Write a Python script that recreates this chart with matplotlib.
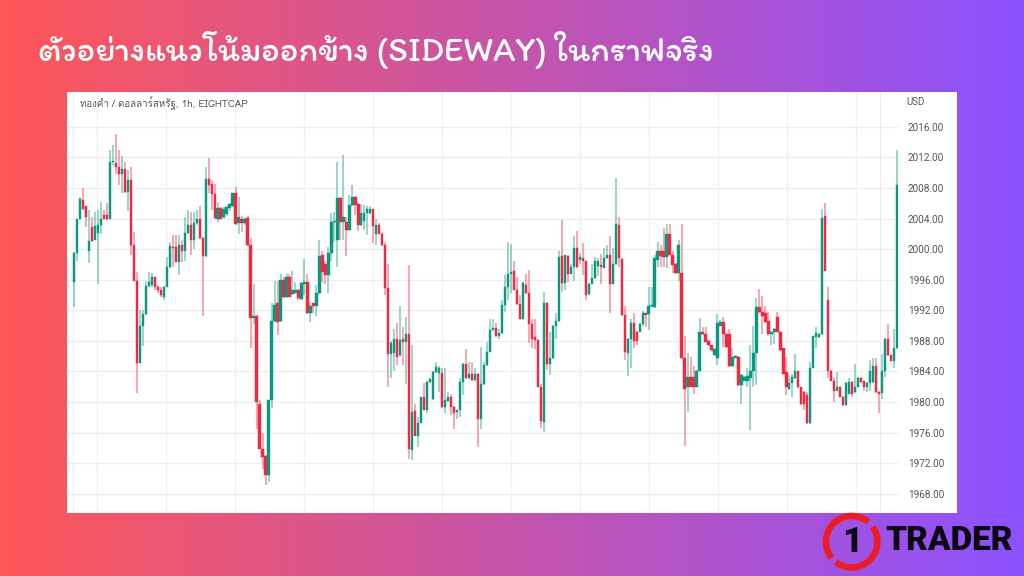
import numpy as np
import matplotlib
matplotlib.use("Agg")
import matplotlib.pyplot as plt
from matplotlib.patches import Wedge
from matplotlib.colors import LinearSegmentedColormap

title = "ตัวอย่างแนวโน้มออกข้าง (SIDEWAY) ในกราฟจริง"
symbol = "ทองคำ / ดอลลาร์สหรัฐ, 1h, EIGHTCAP"
currency = "USD"
price_ticks = [2016, 2012, 2008, 2004, 2000, 1996, 1992, 1988, 1984, 1980, 1976, 1972, 1968]

opens = [1995.7,1999.5,2004.0,2006.4,2005.6,1999.8,2002.9,2001.2,2002.1,2003.2,
2004.5,2004.5,2004.0,2011.4,2011.3,2010.7,2009.8,2010.5,2007.5,2009.1,
2000.5,1995.9,1985.1,1989.9,1991.5,1995.2,1995.3,1996.3,1995.0,1994.6,
1993.8,1995.0,1997.7,2000.3,2000.3,1998.3,2000.6,1999.7,2002.1,2003.2,
2001.2,2003.4,2004.0,2001.4,1999.1,2009.2,2008.5,2007.2,2004.0,2005.4,
2004.2,2004.6,2005.4,2005.7,2007.3,2003.4,2004.0,2003.4,2004.1,2000.5,
1991.0,1991.3,1979.8,1973.9,1972.9,1970.4,1980.2,1990.6,1992.9,1990.6,
1996.0,1993.7,1996.3,1994.1,1994.2,1994.6,1993.5,1995.5,1995.7,1991.6,
1992.9,1992.6,1994.2,1999.3,1998.1,1996.6,1999.5,2003.6,2001.2,2006.7,
2003.6,2003.6,2002.5,2005.8,2006.8,2005.9,2003.2,2003.7,2004.7,2004.7,
2005.2,2002.0,2003.2,2002.0,2000.6,1994.9,1986.3,1986.4,1988.3,1986.1,
1988.2,1987.9,1988.9,1973.7,1978.8,1975.6,1977.3,1980.6,1979.0,1982.6,
1980.4,1983.9,1983.8,1983.8,1979.3,1980.1,1980.7,1979.4,1978.7,1978.9,
1982.6,1985.0,1983.1,1983.7,1982.9,1983.7,1977.8,1982.3,1984.8,1986.6,
1989.4,1989.7,1988.6,1989.0,1992.7,1995.1,1996.8,1997.2,1994.7,1992.8,
1990.9,1995.3,1994.2,1990.2,1988.5,1988.1,1982.0,1977.4,1993.0,1985.0,
1985.7,1990.0,1990.6,1999.1,1995.6,1999.1,1996.8,1997.7,2000.1,1998.6,
1998.9,1998.4,1994.1,1995.5,1996.2,1997.8,1997.9,1997.6,1998.8,1999.2,
1995.5,1998.0,2003.2,1998.7,1991.4,1986.4,1988.3,1990.4,1989.2,1989.2,
1990.2,1991.6,1991.5,1992.6,1992.4,1998.6,1999.8,1999.8,1999.0,2002.0,
1999.3,1998.1,1996.9,1996.9,1985.7,1982.0,1983.3,1983.3,1982.0,1984.1,
1989.2,1988.9,1988.0,1987.4,1986.2,1985.8,1990.0,1990.5,1988.9,1988.9,
1984.7,1985.8,1985.9,1982.2,1982.8,1982.8,1983.2,1984.1,1986.4,1992.4,
1991.8,1991.6,1990.6,1988.9,1989.2,1991.1,1989.2,1987.0,1983.9,1981.7,
1982.5,1983.1,1984.0,1981.9,1981.3,1980.9,1977.2,1984.5,1988.5,1988.5,
1988.9,2004.4,1993.4,1984.1,1982.8,1981.5,1982.0,1980.7,1979.6,1981.1,
1982.6,1981.3,1982.0,1983.2,1982.7,1982.0,1982.5,1982.6,1984.7,1981.3,
1981.2,1984.0,1988.2,1986.1,1985.4,1987.0]

closes = [1999.5,2004.0,2006.6,2005.2,2004.2,2001.1,2001.1,2003.0,2003.2,2004.0,
2004.0,2003.9,2011.4,2011.5,2010.7,2009.9,2010.5,2007.5,2009.1,2000.5,
1995.9,1985.1,1989.9,1991.5,1995.2,1995.7,1996.3,1995.0,1994.6,1994.0,
1995.0,1997.7,2000.4,2000.1,1998.3,2000.6,1999.7,2002.1,2003.2,2001.2,
2003.4,2003.9,2001.4,1999.1,2009.2,2008.4,2007.2,2004.1,2005.4,2004.0,
2005.3,2005.5,2005.9,2007.3,2003.3,2004.2,2003.4,2004.0,2000.5,1991.0,
1991.3,1980.0,1973.9,1972.8,1970.4,1980.2,1990.6,1992.7,1990.5,1996.0,
1993.7,1996.3,1993.8,1994.6,1994.6,1993.6,1995.6,1995.7,1991.6,1992.6,
1992.6,1994.2,1999.1,1997.0,1996.6,1999.5,2003.6,2003.7,2006.7,2003.6,
2004.2,2002.5,2005.8,2006.8,2005.8,2003.1,2004.8,2004.8,2005.3,2005.3,
2003.0,2003.1,2002.0,2000.5,1994.9,1986.3,1987.7,1988.3,1985.9,1988.1,
1987.9,1988.9,1973.9,1978.7,1975.6,1977.3,1980.6,1979.0,1982.6,1983.0,
1983.9,1984.6,1984.5,1979.3,1980.2,1980.7,1979.4,1978.6,1978.9,1982.6,
1985.0,1983.1,1983.6,1982.9,1983.7,1977.8,1982.3,1984.8,1986.6,1989.4,
1989.7,1988.6,1989.0,1992.7,1995.1,1996.8,1997.0,1994.7,1992.8,1990.9,
1995.6,1994.2,1990.2,1988.3,1988.1,1982.0,1977.5,1993.0,1985.0,1985.7,
1990.0,1990.6,1999.0,1995.6,1999.2,1996.8,1997.7,2000.1,1997.7,1999.0,
1998.4,1994.0,1995.5,1996.2,1998.4,1998.4,1997.7,1998.8,1999.3,1995.5,
1998.0,2003.3,1998.8,1991.4,1986.6,1988.3,1990.4,1988.0,1988.0,1990.2,
1991.6,1991.4,1992.6,1992.7,1998.8,1999.8,1999.1,1999.0,2002.0,1999.3,
1997.9,1996.9,2000.6,1985.7,1981.7,1983.3,1982.0,1982.0,1984.1,1989.2,
1988.9,1987.9,1987.4,1986.8,1986.9,1990.3,1990.5,1988.9,1987.2,1984.7,
1985.9,1986.0,1982.2,1983.5,1983.3,1983.4,1984.1,1986.4,1992.4,1991.8,
1991.3,1990.5,1988.9,1989.2,1989.6,1989.2,1986.8,1983.7,1981.9,1982.5,
1983.3,1984.0,1981.9,1979.7,1979.7,1977.2,1984.5,1988.6,1989.0,1988.9,
2004.1,1997.2,1984.1,1982.8,1981.5,1982.0,1980.7,1979.6,1982.5,1982.6,
1981.1,1982.0,1983.2,1982.6,1982.0,1982.5,1984.1,1984.7,1981.3,1981.1,
1984.1,1988.3,1986.1,1985.4,1987.0,2008.4]

highs = [1999.6,2004.0,2006.8,2008.0,2005.7,2005.1,2004.2,2004.9,2005.1,2006.2,
2005.1,2006.0,2013.0,2013.6,2015.1,2013.0,2012.2,2011.4,2010.3,2010.7,
2002.2,1997.0,1992.0,1992.0,1995.9,1997.0,1996.9,1996.4,1995.3,1995.0,
1995.2,1999.0,2000.9,2001.8,2001.8,2001.8,2001.2,2004.2,2005.1,2004.9,
2004.9,2005.1,2005.7,2001.6,2010.7,2011.9,2009.0,2008.5,2006.2,2005.5,
2005.5,2005.7,2006.0,2007.4,2008.1,2006.8,2004.4,2004.2,2004.3,2001.4,
1995.5,1991.4,1980.3,1976.0,1973.0,1980.3,1992.9,1995.9,1995.9,1996.7,
1996.3,1996.8,1996.8,1997.2,1995.7,1994.8,1995.7,1998.7,1996.8,1993.1,
1993.0,1995.3,2001.2,1999.8,1998.5,2000.3,2004.7,2004.9,2011.4,2006.8,
2012.3,2004.2,2007.1,2008.4,2007.0,2006.0,2005.9,2005.8,2005.6,2005.6,
2005.3,2003.9,2003.4,2002.3,2001.0,1998.0,1988.0,1989.6,1990.3,1992.5,
1989.8,1991.1,1997.9,1987.4,1979.7,1978.0,1980.7,1982.5,1982.8,1983.2,
1984.0,1985.2,1984.7,1984.4,1984.4,1981.3,1981.1,1979.5,1979.0,1983.1,
1985.1,1986.9,1985.2,1985.2,1984.4,1983.8,1987.2,1985.2,1987.9,1990.8,
1990.8,1990.3,1989.6,1993.3,1996.6,2001.0,2000.7,1998.4,1996.4,1994.0,
1995.7,1996.8,1997.3,1990.9,1990.9,1988.3,1982.4,1994.4,1993.1,1989.2,
1990.1,1991.6,1999.7,2003.8,1999.3,1999.3,1998.0,2001.7,2002.4,1999.5,
2000.8,1998.5,1995.6,1998.0,1999.0,1998.9,1999.4,2000.1,2000.5,2001.7,
2000.1,2009.3,2004.2,1998.8,1992.5,1988.4,1990.9,1991.6,1989.3,1990.3,
1991.9,1991.7,1995.0,1995.0,1999.2,2001.0,2000.5,2002.8,2003.3,2003.3,
1999.8,1998.2,2001.2,2003.3,1988.7,1986.4,1985.9,1984.7,1984.2,1991.0,
1989.8,1989.8,1988.1,1987.5,1987.0,1991.5,1990.7,1991.1,1989.0,1989.6,
1987.1,1986.2,1986.0,1983.6,1983.4,1984.5,1987.4,1990.0,1993.6,1994.8,
1993.9,1992.6,1991.8,1989.3,1989.7,1991.8,1989.3,1987.1,1985.9,1983.5,
1983.7,1986.3,1984.1,1982.0,1981.4,1981.3,1985.2,1988.7,1989.8,1989.0,
2005.3,2006.1,1995.0,1984.2,1983.3,1983.9,1982.1,1980.8,1982.6,1983.2,
1982.7,1985.0,1983.3,1983.3,1982.8,1982.6,1985.5,1985.7,1985.7,1981.4,
1986.3,1988.4,1990.2,1986.2,1989.5,2013.0]

lows = [1992.4,1998.5,2004.0,2005.1,2002.9,1998.2,2001.0,2001.2,1995.5,2002.0,
2003.9,2003.8,2003.9,2011.0,2009.9,2008.4,2007.3,2007.3,2005.0,1999.2,
1995.8,1981.2,1985.1,1987.3,1991.4,1995.0,1995.0,1994.6,1994.2,1993.8,
1993.3,1995.0,1997.6,1997.7,1998.3,1996.6,1998.3,1998.5,2002.0,1999.2,
2000.0,2003.2,2001.3,1991.3,1999.0,2007.3,2005.1,2004.0,2003.6,2003.9,
2003.9,2004.3,2005.0,2005.5,2003.1,2002.0,2002.2,2003.2,2000.4,1987.0,
1990.2,1976.5,1973.8,1971.2,1969.1,1969.5,1979.2,1990.5,1988.8,1990.5,
1993.6,1993.6,1993.7,1994.0,1994.1,1993.3,1993.4,1994.0,1991.5,1990.5,
1991.6,1991.3,1994.1,1995.7,1995.5,1994.2,1998.5,2001.0,1997.7,2001.2,
2001.2,1999.1,2002.4,2005.7,2004.5,2002.4,2003.0,2002.5,2001.8,2004.6,
2000.8,2000.5,2002.0,2000.4,1994.0,1982.0,1983.1,1984.1,1984.8,1985.9,
1984.8,1982.3,1972.6,1972.4,1975.5,1974.1,1977.2,1978.9,1978.5,1982.5,
1980.3,1983.8,1981.3,1979.2,1978.5,1980.0,1978.3,1976.5,1977.8,1978.0,
1980.9,1983.0,1983.0,1982.8,1982.8,1974.1,1976.5,1982.2,1984.7,1986.5,
1989.3,1988.5,1988.3,1988.9,1991.8,1993.3,1994.2,1994.6,1992.7,1990.8,
1990.8,1994.1,1987.7,1987.0,1986.9,1981.9,1976.6,1976.1,1984.2,1983.5,
1985.6,1988.3,1990.5,1994.4,1994.6,1995.7,1996.7,1995.9,1997.5,1998.0,
1996.6,1993.3,1994.0,1995.4,1996.1,1996.5,1995.4,1997.5,1998.7,1991.6,
1995.4,1997.9,1997.7,1991.3,1985.5,1983.4,1984.5,1987.1,1987.5,1989.1,
1990.0,1989.8,1989.4,1992.3,1992.3,1997.7,1997.7,1997.7,1997.5,1999.2,
1996.9,1996.8,1995.9,1985.6,1974.3,1978.7,1981.9,1981.1,1981.9,1984.0,
1988.8,1987.8,1987.3,1986.5,1986.0,1984.9,1989.9,1987.2,1987.1,1984.6,
1984.6,1985.7,1982.1,1979.7,1982.7,1982.0,1976.3,1982.0,1982.2,1991.7,
1988.9,1990.4,1988.7,1987.4,1987.6,1989.1,1986.7,1983.6,1980.9,1981.6,
1980.7,1983.0,1981.8,1979.6,1978.9,1977.1,1977.1,1984.4,1987.0,1988.4,
1988.8,1997.1,1983.1,1982.7,1980.0,1981.4,1980.6,1979.5,1979.5,1981.0,
1980.7,1981.2,1981.9,1982.5,1981.5,1981.3,1981.5,1982.5,1981.2,1978.5,
1980.4,1983.3,1986.0,1985.3,1984.5,1986.9]

TITLE_FAM = ['Itim', 'Kanit', 'Anuphan', 'Loma', 'DejaVu Sans']
LABEL_FAM = ['Loma', 'Anuphan', 'DejaVu Sans']

W, H = 1024, 576
fig = plt.figure(figsize=(W/100, H/100), dpi=100)

def axpx(x0, y0, x1, y1, **kw):
    return fig.add_axes([x0/W, 1-y1/H, (x1-x0)/W, (y1-y0)/H], **kw)

bg = fig.add_axes([0, 0, 1, 1])
cm = LinearSegmentedColormap.from_list("g", ["#FF5757", "#8C52FF"])
bg.imshow(np.linspace(0, 1, 512)[None, :], aspect="auto", cmap=cm, extent=[0, W, H, 0])
bg.set_xlim(0, W); bg.set_ylim(H, 0); bg.axis("off")

panel = axpx(67, 92, 957, 513)
panel.set_facecolor("white"); panel.set_xticks([]); panel.set_yticks([])
for s in panel.spines.values():
    s.set_visible(False)
panel.axvline(0.9135, color="#ececec", lw=0.7)

ax = axpx(67, 92, 898, 513)
ax.patch.set_alpha(0)
step = 2.993
ax.set_xlim(-7/step, (898-74)/step)
ax.set_ylim(2012-355.5/7.64, 2012+65.5/7.64)
for s in ax.spines.values():
    s.set_visible(False)
ax.yaxis.tick_right()
ax.set_yticks(price_ticks)
ax.set_yticklabels([f"{p:.2f}" for p in price_ticks], fontfamily="Roboto", fontsize=7.2, color="#555555")
ax.tick_params(axis="y", length=0, pad=7)
ax.set_xticks([7.6 + 23.05*k for k in range(12)] + [-0.3])
ax.tick_params(axis="x", length=0, labelbottom=False)
ax.grid(True, axis="y", color="#eeeeee", lw=0.9)
ax.grid(True, axis="x", color="#f0f0f0", lw=0.9)
ax.set_axisbelow(True)

xs = np.arange(len(opens))
o, c, h, l = map(np.array, (opens, closes, highs, lows))
up = c >= o
GREEN, RED = "#089981", "#F7263E"
cols = np.where(up, GREEN, RED)
ax.vlines(xs, l, h, colors=cols, lw=1.15, alpha=0.5, zorder=2)
ax.bar(xs, np.abs(c-o), bottom=np.minimum(o, c), width=0.78, color=cols, edgecolor=cols, linewidth=0.3, zorder=3)

ov = fig.add_axes([0, 0, 1, 1]); ov.set_xlim(0, W); ov.set_ylim(H, 0); ov.axis("off"); ov.patch.set_alpha(0)
ov.text(80, 103.5, symbol, family=LABEL_FAM, fontsize=7.0, color="#555555", va="center")
ov.text(906, 102, currency, family="Roboto", fontsize=7, color="#555555", va="center")
ov.text(38, 50, title, family=TITLE_FAM, fontsize=25.2, color="white", va="center")

cx, cy = 851.7, 541.7
ring = fig.add_axes([(cx-32)/W, 1-(cy+32)/H, 64/W, 64/H]); ring.set_xlim(-32, 32); ring.set_ylim(-32, 32); ring.axis("off"); ring.patch.set_alpha(0)
for a, b in [(50, 219), (232, 395)]:
    ring.add_patch(Wedge((0, 0), 29, a, b, width=6.5, color="#ED1C24", lw=0))
ring.text(0, -0.5, "1", family="Roboto", weight="black", fontsize=25, color="#0d0712", ha="center", va="center")
ov.text(885, 540.5, "TRADER", family="Roboto", weight="black", fontsize=24, color="#0d0712", va="center")

fig.savefig("out.png", dpi=100)
